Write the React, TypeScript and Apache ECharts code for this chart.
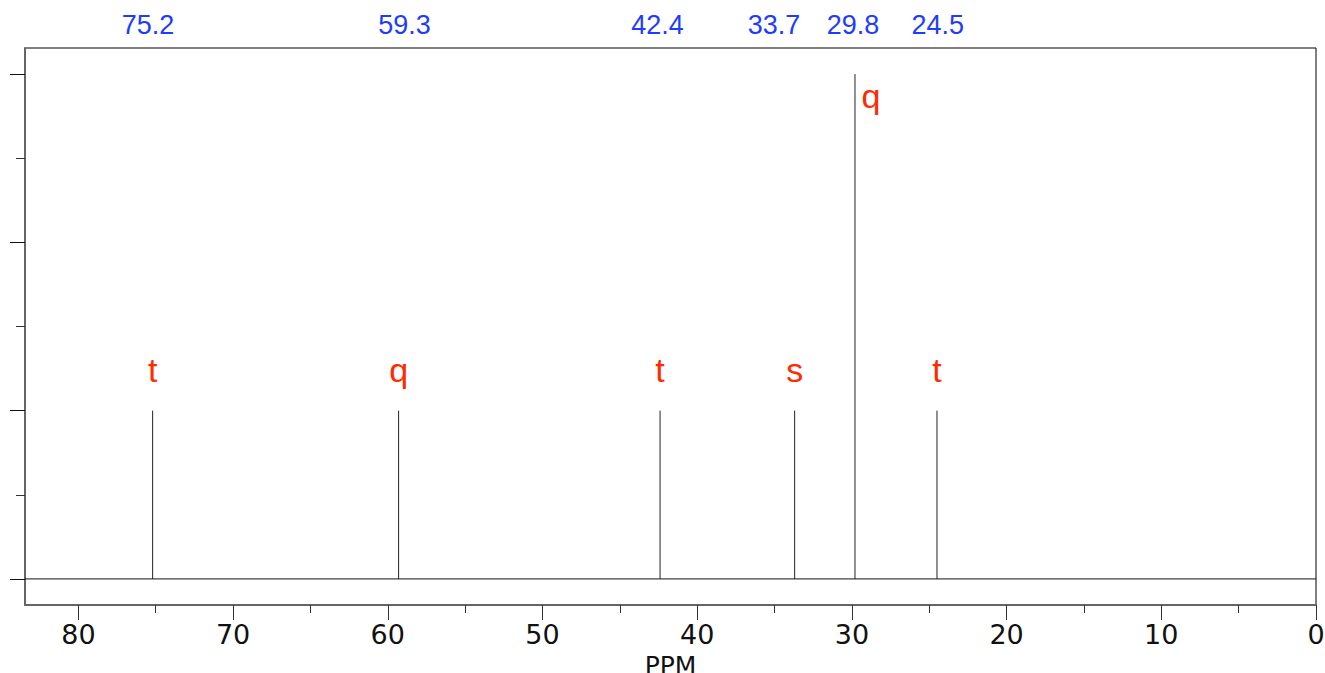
import React, { useEffect, useRef } from "react";
import * as echarts from "echarts";

// ---- data ----
const peakPpm = [75.2, 59.3, 42.4, 33.7, 29.8, 24.5];
const peakHeight = [2, 2, 2, 2, 6, 2];
const multiplicity = ["t", "q", "t", "s", "q", "t"];
const shiftLabels = ["75.2", "59.3", "42.4", "33.7", "29.8", "24.5"];
const shiftLabelPpm = [75.5, 58.92, 42.57, 35.04, 29.93, 24.45];
const xMajorTicks = [0, 10, 20, 30, 40, 50, 60, 70, 80];
const xMinorTicks = [5, 15, 25, 35, 45, 55, 65, 75];
const yMajorTicks = [0, 2, 4, 6];
const yMinorTicks = [1, 3, 5];
const xRange = [0, 83.45];
const yRange = [-0.31, 6.31];

const BLUE = "#1d3cff";
const RED = "#ff2a00";

export default function App() {
  const ref = useRef<HTMLDivElement>(null);

  useEffect(() => {
    if (!ref.current) return;
    const chart = echarts.init(ref.current, undefined, { renderer: "svg" });
    const maxH = Math.max(...peakHeight);

    const baseX = {
      type: "value",
      inverse: true,
      min: xRange[0],
      max: xRange[1],
      position: "bottom",
      splitLine: { show: false },
    };
    const baseY = {
      type: "value",
      min: yRange[0],
      max: yRange[1],
      position: "left",
      splitLine: { show: false },
    };

    const option: any = {
      animation: false,
      grid: {
        left: 25,
        right: 9,
        top: 48,
        bottom: 68,
        show: true,
        borderColor: "#000",
        borderWidth: 1,
        containLabel: false,
        outerBoundsMode: "none",
      },
      xAxis: [
        {
          ...baseX,
          name: "PPM",
          nameLocation: "middle",
          nameGap: 44,
          nameTextStyle: { fontSize: 25, lineHeight: 25, fontFamily: "DejaVu Sans", color: "#111" },
          axisLine: { show: true, onZero: false, lineStyle: { color: "#666", width: 2 } },
          axisTick: { show: true, inside: false, length: 15, customValues: xMajorTicks, lineStyle: { color: "#333", width: 1 } },
          axisLabel: {
            show: true,
            customValues: xMajorTicks,
            fontSize: 27,
            fontFamily: "DejaVu Sans",
            color: "#111",
            margin: 16,
          },
        },
        {
          ...baseX,
          axisLine: { show: false, onZero: false },
          axisTick: { show: true, inside: false, length: 8, customValues: xMinorTicks, lineStyle: { color: "#333", width: 1 } },
          axisLabel: { show: false },
        },
      ],
      yAxis: [
        {
          ...baseY,
          axisLine: { show: true, onZero: false, lineStyle: { color: "#666", width: 2 } },
          axisTick: { show: true, inside: false, length: 15, customValues: yMajorTicks, lineStyle: { color: "#111", width: 1 } },
          axisLabel: { show: false },
        },
        {
          ...baseY,
          axisLine: { show: false, onZero: false },
          axisTick: { show: true, inside: false, length: 9, customValues: yMinorTicks, lineStyle: { color: "#333", width: 1 } },
          axisLabel: { show: false },
        },
      ],
      series: [
        {
          type: "line",
          silent: true,
          symbol: "none",
          data: [
            [xRange[0], 0],
            [xRange[1], 0],
          ],
          lineStyle: { color: "#111", width: 1 },
        },
        {
          type: "custom",
          silent: true,
          clip: false,
          data: peakPpm.map((p, i) => [p, peakHeight[i]]),
          renderItem: (params: any, api: any) => {
            const x = api.value(0);
            const h = api.value(1);
            const p0 = api.coord([x, 0]);
            const p1 = api.coord([x, h]);
            const isMax = h === maxH;
            return {
              type: "group",
              children: [
                {
                  type: "line",
                  shape: { x1: p0[0], y1: p0[1], x2: p1[0], y2: p1[1] },
                  style: { stroke: "#222", lineWidth: 1 },
                },
                {
                  type: "text",
                  x: isMax ? p1[0] + 6.6 : p1[0],
                  y: isMax ? p1[1] + 22 : p1[1] - 40.5,
                  style: {
                    text: multiplicity[params.dataIndex],
                    fill: RED,
                    fontSize: 34,
                    fontFamily: "Liberation Sans",
                    align: isMax ? "left" : "center",
                    verticalAlign: "middle",
                  },
                },
              ],
            };
          },
        },
        {
          type: "custom",
          silent: true,
          clip: false,
          data: shiftLabelPpm.map((p) => [p, 0]),
          renderItem: (params: any, api: any) => {
            const pt = api.coord([api.value(0), 0]);
            return {
              type: "text",
              x: pt[0],
              y: params.coordSys.y - 23,
              style: {
                text: shiftLabels[params.dataIndex],
                fill: BLUE,
                fontSize: 27,
                fontFamily: "Liberation Sans",
                align: "center",
                verticalAlign: "middle",
              },
            };
          },
        },
      ],
    };

    chart.setOption(option);
    return () => chart.dispose();
  }, []);

  return (
    <div
      ref={ref}
      style={{ position: "absolute", left: 0, top: 0, width: 1325, height: 673, background: "#fff" }}
    />
  );
}
